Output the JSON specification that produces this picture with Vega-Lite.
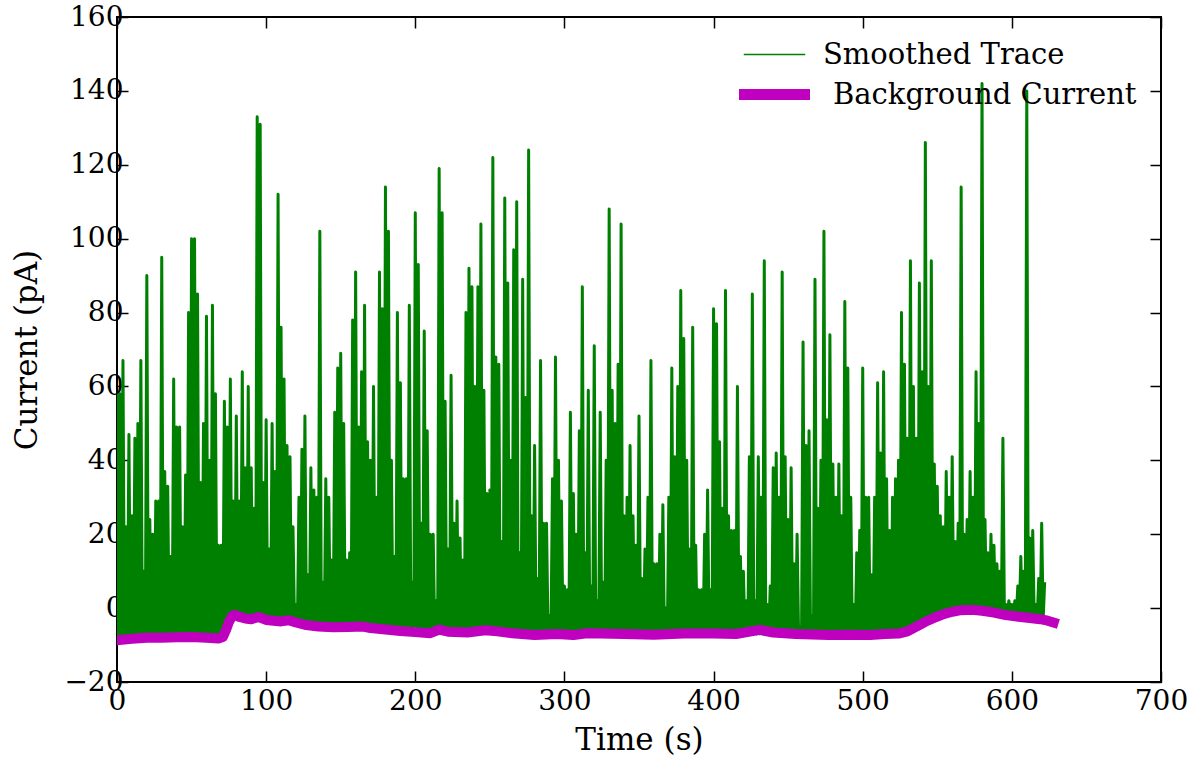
{
"$schema":"https://vega.github.io/schema/vega-lite/v6.json",
"width":1044,"height":665,
"autosize":{"type":"none"},
"padding":{"left":117,"top":17,"right":38,"bottom":76},
"background":"white",
"config":{"view":{"stroke":"black","strokeWidth":2},"font":"DejaVu Serif"},
"datasets":{
"trace":[
{"t":0,"v":58},{"t":1,"v":-8},{"t":2,"v":58},{"t":3,"v":-8},{"t":4,"v":67},{"t":5,"v":-8},{"t":6,"v":22},{"t":7,"v":-8},{"t":8,"v":47},{"t":9,"v":-8},
{"t":10,"v":25},{"t":11,"v":-8},{"t":12,"v":46},{"t":13,"v":-8},{"t":14,"v":50},{"t":15,"v":-8},{"t":16,"v":67},{"t":17,"v":-8},{"t":18,"v":10},{"t":19,"v":-8},
{"t":20,"v":90},{"t":21,"v":-8},{"t":22,"v":24},{"t":23,"v":-8},{"t":24,"v":20},{"t":25,"v":-8},{"t":26,"v":29},{"t":27,"v":-8},{"t":28,"v":29},{"t":29,"v":-8},
{"t":30,"v":95},{"t":31,"v":-8},{"t":32,"v":37},{"t":33,"v":-8},{"t":34,"v":33},{"t":35,"v":-8},{"t":36,"v":14},{"t":37,"v":-8},{"t":38,"v":62},{"t":39,"v":-8},
{"t":40,"v":49},{"t":41,"v":-8},{"t":42,"v":49},{"t":43,"v":-8},{"t":44,"v":22},{"t":45,"v":-8},{"t":46,"v":36},{"t":47,"v":-8},{"t":48,"v":80},{"t":49,"v":-8},
{"t":50,"v":100},{"t":51,"v":-8},{"t":52,"v":100},{"t":53,"v":-8},{"t":54,"v":85},{"t":55,"v":-8},{"t":56,"v":34},{"t":57,"v":-8},{"t":58,"v":50},{"t":59,"v":-8},
{"t":60,"v":79},{"t":61,"v":-8},{"t":62,"v":40},{"t":63,"v":-8},{"t":64,"v":82},{"t":65,"v":-8},{"t":66,"v":58},{"t":67,"v":-8},{"t":68,"v":17},{"t":69,"v":-8},
{"t":70,"v":17},{"t":71,"v":-8},{"t":72,"v":56},{"t":73,"v":-7},{"t":74,"v":49},{"t":75,"v":-4},{"t":76,"v":62},{"t":77,"v":-3},{"t":78,"v":29},{"t":79,"v":-3},
{"t":80,"v":52},{"t":81,"v":-3},{"t":82,"v":29},{"t":83,"v":-3},{"t":84,"v":64},{"t":85,"v":-3},{"t":86,"v":38},{"t":87,"v":-3},{"t":88,"v":60},{"t":89,"v":-3},
{"t":90,"v":38},{"t":91,"v":-3},{"t":92,"v":27},{"t":93,"v":-3},{"t":94,"v":133},{"t":95,"v":-3},{"t":96,"v":131},{"t":97,"v":-3},{"t":98,"v":34},{"t":99,"v":-3},
{"t":100,"v":51},{"t":101,"v":-4},{"t":102,"v":16},{"t":103,"v":-4},{"t":104,"v":50},{"t":105,"v":-4},{"t":106,"v":37},{"t":107,"v":-4},{"t":108,"v":112},{"t":109,"v":-4},
{"t":110,"v":76},{"t":111,"v":-4},{"t":112,"v":62},{"t":113,"v":-4},{"t":114,"v":44},{"t":115,"v":-4},{"t":116,"v":41},{"t":117,"v":-4},{"t":118,"v":22},{"t":119,"v":-4},
{"t":120,"v":1},{"t":121,"v":-4},{"t":122,"v":30},{"t":123,"v":-4},{"t":124,"v":43},{"t":125,"v":-4},{"t":126,"v":52},{"t":127,"v":-5},{"t":128,"v":9},{"t":129,"v":-5},
{"t":130,"v":38},{"t":131,"v":-5},{"t":132,"v":32},{"t":133,"v":-5},{"t":134,"v":30},{"t":135,"v":-5},{"t":136,"v":102},{"t":137,"v":-5},{"t":138,"v":7},{"t":139,"v":-5},
{"t":140,"v":35},{"t":141,"v":-5},{"t":142,"v":30},{"t":143,"v":-5},{"t":144,"v":13},{"t":145,"v":-5},{"t":146,"v":53},{"t":147,"v":-5},{"t":148,"v":65},{"t":149,"v":-5},
{"t":150,"v":69},{"t":151,"v":-5},{"t":152,"v":50},{"t":153,"v":-5},{"t":154,"v":13},{"t":155,"v":-5},{"t":156,"v":15},{"t":157,"v":-5},{"t":158,"v":78},{"t":159,"v":-5},
{"t":160,"v":91},{"t":161,"v":-5},{"t":162,"v":49},{"t":163,"v":-5},{"t":164,"v":64},{"t":165,"v":-5},{"t":166,"v":82},{"t":167,"v":-5},{"t":168,"v":45},{"t":169,"v":-5},
{"t":170,"v":40},{"t":171,"v":-5},{"t":172,"v":60},{"t":173,"v":-5},{"t":174,"v":30},{"t":175,"v":-5},{"t":176,"v":91},{"t":177,"v":-5},{"t":178,"v":81},{"t":179,"v":-5},
{"t":180,"v":114},{"t":181,"v":-5},{"t":182,"v":102},{"t":183,"v":-5},{"t":184,"v":40},{"t":185,"v":-5},{"t":186,"v":14},{"t":187,"v":-5},{"t":188,"v":80},{"t":189,"v":-5},
{"t":190,"v":61},{"t":191,"v":-5},{"t":192,"v":35},{"t":193,"v":-5},{"t":194,"v":35},{"t":195,"v":-5},{"t":196,"v":82},{"t":197,"v":-5},{"t":198,"v":7},{"t":199,"v":-5},
{"t":200,"v":107},{"t":201,"v":-6},{"t":202,"v":93},{"t":203,"v":-6},{"t":204,"v":23},{"t":205,"v":-6},{"t":206,"v":75},{"t":207,"v":-6},{"t":208,"v":48},{"t":209,"v":-6},
{"t":210,"v":20},{"t":211,"v":-6},{"t":212,"v":20},{"t":213,"v":-6},{"t":214,"v":2},{"t":215,"v":-6},{"t":216,"v":119},{"t":217,"v":-6},{"t":218,"v":107},{"t":219,"v":-6},
{"t":220,"v":56},{"t":221,"v":-6},{"t":222,"v":16},{"t":223,"v":-6},{"t":224,"v":63},{"t":225,"v":-6},{"t":226,"v":23},{"t":227,"v":-6},{"t":228,"v":29},{"t":229,"v":-6},
{"t":230,"v":19},{"t":231,"v":-6},{"t":232,"v":13},{"t":233,"v":-6},{"t":234,"v":80},{"t":235,"v":-6},{"t":236,"v":92},{"t":237,"v":-6},{"t":238,"v":87},{"t":239,"v":-6},
{"t":240,"v":60},{"t":241,"v":-6},{"t":242,"v":87},{"t":243,"v":-6},{"t":244,"v":104},{"t":245,"v":-6},{"t":246,"v":59},{"t":247,"v":-6},{"t":248,"v":31},{"t":249,"v":-6},
{"t":250,"v":32},{"t":251,"v":-6},{"t":252,"v":122},{"t":253,"v":-6},{"t":254,"v":68},{"t":255,"v":-6},{"t":256,"v":66},{"t":257,"v":-6},{"t":258,"v":18},{"t":259,"v":-6},
{"t":260,"v":111},{"t":261,"v":-6},{"t":262,"v":88},{"t":263,"v":-6},{"t":264,"v":40},{"t":265,"v":-6},{"t":266,"v":97},{"t":267,"v":-6},{"t":268,"v":110},{"t":269,"v":-6},
{"t":270,"v":15},{"t":271,"v":-6},{"t":272,"v":89},{"t":273,"v":-6},{"t":274,"v":57},{"t":275,"v":-6},{"t":276,"v":124},{"t":277,"v":-6},{"t":278,"v":25},{"t":279,"v":-6},
{"t":280,"v":44},{"t":281,"v":-6},{"t":282,"v":8},{"t":283,"v":-6},{"t":284,"v":67},{"t":285,"v":-6},{"t":286,"v":23},{"t":287,"v":-6},{"t":288,"v":23},{"t":289,"v":-6},
{"t":290,"v":-2},{"t":291,"v":-6},{"t":292,"v":35},{"t":293,"v":-6},{"t":294,"v":68},{"t":295,"v":-6},{"t":296,"v":40},{"t":297,"v":-6},{"t":298,"v":29},{"t":299,"v":-6},
{"t":300,"v":6},{"t":301,"v":-6},{"t":302,"v":5},{"t":303,"v":-6},{"t":304,"v":53},{"t":305,"v":-6},{"t":306,"v":31},{"t":307,"v":-6},{"t":308,"v":20},{"t":309,"v":-6},
{"t":310,"v":48},{"t":311,"v":-6},{"t":312,"v":87},{"t":313,"v":-6},{"t":314,"v":15},{"t":315,"v":-6},{"t":316,"v":59},{"t":317,"v":-6},{"t":318,"v":6},{"t":319,"v":-6},
{"t":320,"v":71},{"t":321,"v":-6},{"t":322,"v":2},{"t":323,"v":-6},{"t":324,"v":53},{"t":325,"v":-6},{"t":326,"v":7},{"t":327,"v":-6},{"t":328,"v":40},{"t":329,"v":-6},
{"t":330,"v":108},{"t":331,"v":-7},{"t":332,"v":59},{"t":333,"v":-7},{"t":334,"v":50},{"t":335,"v":-7},{"t":336,"v":66},{"t":337,"v":-7},{"t":338,"v":104},{"t":339,"v":-7},
{"t":340,"v":25},{"t":341,"v":-7},{"t":342,"v":30},{"t":343,"v":-7},{"t":344,"v":44},{"t":345,"v":-7},{"t":346,"v":25},{"t":347,"v":-7},{"t":348,"v":17},{"t":349,"v":-7},
{"t":350,"v":52},{"t":351,"v":-7},{"t":352,"v":8},{"t":353,"v":-7},{"t":354,"v":16},{"t":355,"v":-7},{"t":356,"v":30},{"t":357,"v":-7},{"t":358,"v":67},{"t":359,"v":-7},
{"t":360,"v":12},{"t":361,"v":-7},{"t":362,"v":12},{"t":363,"v":-7},{"t":364,"v":20},{"t":365,"v":-7},{"t":366,"v":28},{"t":367,"v":-7},{"t":368,"v":0},{"t":369,"v":-7},
{"t":370,"v":30},{"t":371,"v":-7},{"t":372,"v":65},{"t":373,"v":-7},{"t":374,"v":41},{"t":375,"v":-7},{"t":376,"v":60},{"t":377,"v":-7},{"t":378,"v":86},{"t":379,"v":-7},
{"t":380,"v":73},{"t":381,"v":-7},{"t":382,"v":40},{"t":383,"v":-7},{"t":384,"v":16},{"t":385,"v":-7},{"t":386,"v":76},{"t":387,"v":-7},{"t":388,"v":17},{"t":389,"v":-7},
{"t":390,"v":5},{"t":391,"v":-7},{"t":392,"v":5},{"t":393,"v":-7},{"t":394,"v":20},{"t":395,"v":-7},{"t":396,"v":32},{"t":397,"v":-7},{"t":398,"v":5},{"t":399,"v":-7},
{"t":400,"v":81},{"t":401,"v":-7},{"t":402,"v":77},{"t":403,"v":-7},{"t":404,"v":45},{"t":405,"v":-7},{"t":406,"v":27},{"t":407,"v":-7},{"t":408,"v":86},{"t":409,"v":-7},
{"t":410,"v":25},{"t":411,"v":-7},{"t":412,"v":21},{"t":413,"v":-7},{"t":414,"v":21},{"t":415,"v":-7},{"t":416,"v":60},{"t":417,"v":-7},{"t":418,"v":14},{"t":419,"v":-7},
{"t":420,"v":10},{"t":421,"v":-7},{"t":422,"v":2},{"t":423,"v":-7},{"t":424,"v":41},{"t":425,"v":-7},{"t":426,"v":85},{"t":427,"v":-7},{"t":428,"v":2},{"t":429,"v":-7},
{"t":430,"v":41},{"t":431,"v":-7},{"t":432,"v":30},{"t":433,"v":-7},{"t":434,"v":94},{"t":435,"v":-7},{"t":436,"v":1},{"t":437,"v":-7},{"t":438,"v":6},{"t":439,"v":-7},
{"t":440,"v":38},{"t":441,"v":-7},{"t":442,"v":42},{"t":443,"v":-7},{"t":444,"v":30},{"t":445,"v":-7},{"t":446,"v":91},{"t":447,"v":-7},{"t":448,"v":41},{"t":449,"v":-7},
{"t":450,"v":24},{"t":451,"v":-7},{"t":452,"v":38},{"t":453,"v":-7},{"t":454,"v":12},{"t":455,"v":-7},{"t":456,"v":20},{"t":457,"v":-7},{"t":458,"v":-5},{"t":459,"v":-7},
{"t":460,"v":72},{"t":461,"v":-7},{"t":462,"v":44},{"t":463,"v":-7},{"t":464,"v":48},{"t":465,"v":-7},{"t":466,"v":-2},{"t":467,"v":-7},{"t":468,"v":89},{"t":469,"v":-7},
{"t":470,"v":27},{"t":471,"v":-7},{"t":472,"v":40},{"t":473,"v":-7},{"t":474,"v":102},{"t":475,"v":-7},{"t":476,"v":51},{"t":477,"v":-7},{"t":478,"v":74},{"t":479,"v":-7},
{"t":480,"v":39},{"t":481,"v":-7},{"t":482,"v":30},{"t":483,"v":-7},{"t":484,"v":39},{"t":485,"v":-7},{"t":486,"v":25},{"t":487,"v":-7},{"t":488,"v":83},{"t":489,"v":-7},
{"t":490,"v":65},{"t":491,"v":-7},{"t":492,"v":30},{"t":493,"v":-7},{"t":494,"v":1},{"t":495,"v":-7},{"t":496,"v":15},{"t":497,"v":-7},{"t":498,"v":21},{"t":499,"v":-7},
{"t":500,"v":65},{"t":501,"v":-7},{"t":502,"v":30},{"t":503,"v":-7},{"t":504,"v":30},{"t":505,"v":-7},{"t":506,"v":9},{"t":507,"v":-7},{"t":508,"v":30},{"t":509,"v":-7},
{"t":510,"v":61},{"t":511,"v":-7},{"t":512,"v":42},{"t":513,"v":-7},{"t":514,"v":64},{"t":515,"v":-7},{"t":516,"v":35},{"t":517,"v":-7},{"t":518,"v":21},{"t":519,"v":-7},
{"t":520,"v":30},{"t":521,"v":-7},{"t":522,"v":35},{"t":523,"v":-7},{"t":524,"v":40},{"t":525,"v":-7},{"t":526,"v":80},{"t":527,"v":-7},{"t":528,"v":66},{"t":529,"v":-7},
{"t":530,"v":46},{"t":531,"v":-6},{"t":532,"v":94},{"t":533,"v":-5},{"t":534,"v":60},{"t":535,"v":-5},{"t":536,"v":46},{"t":537,"v":-4},{"t":538,"v":88},{"t":539,"v":-4},
{"t":540,"v":64},{"t":541,"v":-3},{"t":542,"v":126},{"t":543,"v":-3},{"t":544,"v":60},{"t":545,"v":-2},{"t":546,"v":94},{"t":547,"v":-2},{"t":548,"v":39},{"t":549,"v":-2},
{"t":550,"v":33},{"t":551,"v":-2},{"t":552,"v":25},{"t":553,"v":-1},{"t":554,"v":22},{"t":555,"v":-1},{"t":556,"v":37},{"t":557,"v":-1},{"t":558,"v":30},{"t":559,"v":-1},
{"t":560,"v":41},{"t":561,"v":-1},{"t":562,"v":18},{"t":563,"v":-1},{"t":564,"v":23},{"t":565,"v":-1},{"t":566,"v":114},{"t":567,"v":-1},{"t":568,"v":20},{"t":569,"v":-1},
{"t":570,"v":24},{"t":571,"v":-1},{"t":572,"v":37},{"t":573,"v":-1},{"t":574,"v":30},{"t":575,"v":-1},{"t":576,"v":64},{"t":577,"v":-1},{"t":578,"v":50},{"t":579,"v":-1},
{"t":580,"v":142},{"t":581,"v":-1},{"t":582,"v":24},{"t":583,"v":-1},{"t":584,"v":15},{"t":585,"v":-1},{"t":586,"v":20},{"t":587,"v":-1},{"t":588,"v":17},{"t":589,"v":-1},
{"t":590,"v":12},{"t":591,"v":-1},{"t":592,"v":10},{"t":593,"v":-1},{"t":594,"v":46},{"t":595,"v":-2},{"t":596,"v":1},{"t":597,"v":-2},{"t":598,"v":2},{"t":599,"v":-2},
{"t":600,"v":1},{"t":601,"v":-2},{"t":602,"v":2},{"t":603,"v":-2},{"t":604,"v":6},{"t":605,"v":-2},{"t":606,"v":14},{"t":607,"v":-2},{"t":608,"v":10},{"t":609,"v":-3},
{"t":610,"v":140},{"t":611,"v":-3},{"t":612,"v":19},{"t":613,"v":-3},{"t":614,"v":21},{"t":615,"v":-3},{"t":616,"v":1},{"t":617,"v":-3},{"t":618,"v":8},{"t":619,"v":-3},
{"t":620,"v":23},{"t":621,"v":-3},{"t":622,"v":7}
],
"bg":[
{"t":0,"v":-8.7},{"t":10,"v":-8.3},{"t":20,"v":-8},{"t":30,"v":-8},{"t":40,"v":-7.9},{"t":50,"v":-7.8},{"t":60,"v":-8},{"t":68,"v":-8.2},{"t":71,"v":-7.8},{"t":73,"v":-6},
{"t":75,"v":-3.8},{"t":77,"v":-2.3},{"t":79,"v":-1.8},{"t":82,"v":-2.4},{"t":86,"v":-2.8},{"t":90,"v":-3},{"t":95,"v":-2.4},{"t":100,"v":-3.2},{"t":105,"v":-3.4},{"t":110,"v":-3.6},
{"t":115,"v":-3.3},{"t":120,"v":-3.9},{"t":127,"v":-4.6},{"t":135,"v":-5},{"t":145,"v":-5.2},{"t":155,"v":-5.1},{"t":165,"v":-5},{"t":170,"v":-5.4},{"t":180,"v":-5.8},{"t":190,"v":-6.2},
{"t":200,"v":-6.5},{"t":210,"v":-6.8},{"t":216,"v":-5.8},{"t":222,"v":-6.4},{"t":235,"v":-6.6},{"t":247,"v":-6},{"t":255,"v":-6.3},{"t":265,"v":-6.8},{"t":280,"v":-7.3},{"t":295,"v":-7},
{"t":306,"v":-7.3},{"t":315,"v":-6.8},{"t":324,"v":-6.9},{"t":340,"v":-7},{"t":360,"v":-7.2},{"t":380,"v":-6.9},{"t":400,"v":-6.9},{"t":415,"v":-7},{"t":431,"v":-5.9},{"t":440,"v":-6.6},
{"t":455,"v":-7},{"t":477,"v":-7.3},{"t":490,"v":-7.2},{"t":505,"v":-7.3},{"t":515,"v":-7},{"t":524,"v":-6.9},{"t":530,"v":-6.3},{"t":536,"v":-5},{"t":542,"v":-3.7},{"t":547,"v":-2.8},
{"t":553,"v":-1.8},{"t":560,"v":-1},{"t":565,"v":-0.6},{"t":570,"v":-0.5},{"t":575,"v":-0.5},{"t":580,"v":-0.7},{"t":588,"v":-1.2},{"t":596,"v":-1.9},{"t":606,"v":-2.4},{"t":612,"v":-2.7},
{"t":619,"v":-3},{"t":624,"v":-3.4},{"t":628,"v":-3.9}
]
},
"layer":[
{
"data":{"name":"trace"},
"mark":{"type":"line","strokeWidth":3,"strokeJoin":"round","clip":true},
"encoding":{
"x":{"field":"t","type":"quantitative","scale":{"domain":[0,700],"nice":false,"zero":false},
"axis":{"orient":"bottom","values":[0,100,200,300,400,500,600,700],"tickSize":-11,"tickWidth":1.5,"tickColor":"black","domain":false,"grid":false,"labelFont":"DejaVu Serif","labelFontSize":28,"labelColor":"black","labelPadding":16,"labelFlush":false,"labelOverlap":false,"title":"Time (s)","titleFont":"DejaVu Serif","titleFontSize":31,"titleFontWeight":"normal","titleColor":"black","titlePadding":10}},
"y":{"field":"v","type":"quantitative","scale":{"domain":[-20,160],"nice":false,"zero":false},
"axis":{"orient":"left","values":[-20,0,20,40,60,80,100,120,140,160],"tickSize":-11,"tickWidth":1.5,"tickColor":"black","domain":false,"grid":false,"labelFont":"DejaVu Serif","labelFontSize":28,"labelColor":"black","labelPadding":5,"labelFlush":false,"labelOverlap":false,"title":"Current (pA)","titleFont":"DejaVu Serif","titleFontSize":31,"titleFontWeight":"normal","titleColor":"black","titlePadding":20}},
"color":{"datum":"Smoothed Trace","type":"nominal","scale":{"domain":["Smoothed Trace","Background Current"],"range":["#008000","#bf00bf"]},
"legend":{"orient":"none","legendX":643,"legendY":23,"title":null,"symbolType":"stroke","symbolSize":3600,"symbolOffset":0,"labelFont":"DejaVu Serif","labelFontSize":29,"labelColor":"black","labelLimit":600,"labelOffset":34,"rowPadding":2,"padding":0,
"encode":{"symbols":{"update":{"strokeWidth":{"signal":"datum.value === 'Background Current' ? 11 : 1.5"},"strokeCap":{"value":"square"}}},"labels":{"update":{"dx":{"signal":"datum.value === 'Background Current' ? 10 : 0"}}}}}}
}
},
{
"data":{"name":"bg"},
"mark":{"type":"line","strokeWidth":10,"strokeCap":"square","strokeJoin":"round","clip":true},
"encoding":{
"x":{"field":"t","type":"quantitative","axis":{"orient":"top","values":[0,100,200,300,400,500,600,700],"tickSize":-11,"tickWidth":1.5,"tickColor":"black","domain":false,"grid":false,"labels":false,"title":null}},
"y":{"field":"v","type":"quantitative","axis":{"orient":"right","values":[-20,0,20,40,60,80,100,120,140,160],"tickSize":-11,"tickWidth":1.5,"tickColor":"black","domain":false,"grid":false,"labels":false,"title":null}},
"color":{"datum":"Background Current","type":"nominal"}
}
}
]
}
